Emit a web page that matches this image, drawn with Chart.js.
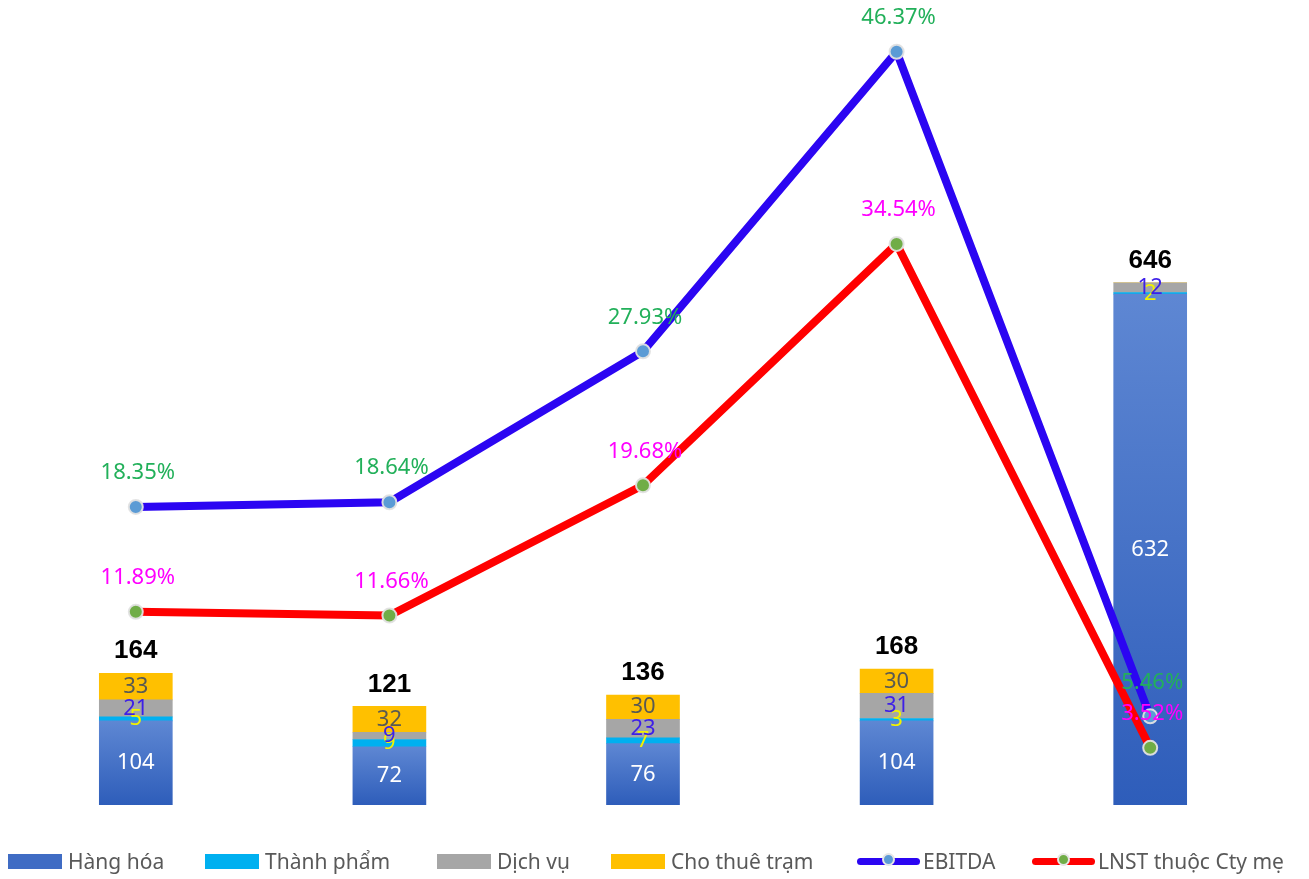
<!DOCTYPE html>
<html lang="vi">
<head>
<meta charset="utf-8">
<script src="https://cdn.jsdelivr.net/npm/chart.js@4.4.1/dist/chart.umd.min.js"></script>
<style>
  html, body { margin: 0; padding: 0; background: #fff; }
  #wrap { position: relative; width: 1309px; height: 879px; }
  #legend {
    position: absolute; left: 0; top: 847px; width: 1309px; height: 28px;
    font-family: "Noto Sans", sans-serif; font-size: 21px; color: #595959;
  }
  .item { position: absolute; top: 0; display: flex; align-items: center; white-space: nowrap; height: 28px; }
  .box { width: 54px; height: 15px; margin-right: 6px; }
  .ln { position: relative; width: 63px; height: 7px; border-radius: 4px; margin-right: 3px; }
  .ln i { position: absolute; left: 25px; top: -5px; width: 13px; height: 13px; border-radius: 50%;
          border: 2px solid #e6e6e6; box-sizing: border-box; }
</style>
</head>
<body>
<div id="wrap">
  <canvas id="c" width="1309" height="879"></canvas>
  <div id="legend"></div>
</div>
<script>
const categories = ["1", "2", "3", "4", "5"];

const hangHoa   = [104, 72, 76, 104, 632];
const thanhPham = [5, 9, 7, 3, 2];
const dichVu    = [21, 9, 23, 31, 12];
const choThue   = [33, 32, 30, 30, 0];
const totals    = [164, 121, 136, 168, 646];

const ebitda = [18.35, 18.64, 27.93, 46.37, 5.46];
const lnst   = [11.89, 11.66, 19.68, 34.54, 3.52];

// legend item left edges (px)
const legendLeft = [8, 205, 437, 611, 857, 1032];

function blueFill(ctx) {
  const chart = ctx.chart;
  const y = chart.scales && chart.scales.y;
  if (!chart.chartArea || !y || ctx.raw == null) return "#4472C4";
  const top = y.getPixelForValue(ctx.raw);
  const bot = y.getPixelForValue(0);
  const g = chart.ctx.createLinearGradient(0, top, 0, bot);
  g.addColorStop(0, "#5E87D3");
  g.addColorStop(1, "#2E5DBA");
  return g;
}

const barSets = [
  { label: "Hàng hóa", data: hangHoa, backgroundColor: blueFill, labelColor: "#FFFFFF", legendColor: "#3F6CC4" },
  { label: "Thành phẩm", data: thanhPham, backgroundColor: "#00B0F0", labelColor: "#F2F200" },
  { label: "Dịch vụ", data: dichVu, backgroundColor: "#A6A6A6", labelColor: "#3D1FE8" },
  { label: "Cho thuê trạm", data: choThue, backgroundColor: "#FFC000", labelColor: "#5A5A52" }
];

const lineSets = [
  { label: "EBITDA", data: ebitda, borderColor: "#2B05F2", pointBackgroundColor: "#5B9BD5", labelColor: "#22B05A" },
  { label: "LNST thuộc Cty mẹ", data: lnst, borderColor: "#FF0000", pointBackgroundColor: "#70AD47", labelColor: "#FF00FF" }
];

const labelsPlugin = {
  id: "labels",
  afterDatasetsDraw(chart) {
    const c = chart.ctx;
    c.save();
    c.textAlign = "center";
    c.textBaseline = "middle";
    c.font = "22px 'Noto Sans'";
    chart.data.datasets.forEach((ds, di) => {
      const meta = chart.getDatasetMeta(di);
      meta.data.forEach((el, i) => {
        const v = ds.data[i];
        if (!v) return;
        c.fillStyle = ds.labelColor;
        if (ds.type === "line") {
          c.fillText(v.toFixed(2) + "%", el.x + 2, el.y - 34);
        } else {
          c.fillText(String(v), el.x, (el.y + el.base) / 2);
        }
      });
    });
    // totals above each stack
    const topMeta = chart.getDatasetMeta(2);
    const y = chart.scales.y;
    c.fillStyle = "#000";
    c.font = "bold 26px 'Liberation Sans', Arial";
    totals.forEach((t, i) => {
      const sum = barSets.reduce((s, b) => s + b.data[i], 0);
      c.fillText(String(t), topMeta.data[i].x, y.getPixelForValue(sum) - 22);
    });
    c.restore();
  }
};

const datasets = [
  ...lineSets.map(s => ({
    type: "line", label: s.label, data: s.data, yAxisID: "y2", order: 0,
    borderColor: s.borderColor, borderWidth: 8, tension: 0,
    pointRadius: 7, pointHoverRadius: 7, pointBorderWidth: 2,
    pointBorderColor: "rgba(225,225,225,0.95)",
    pointBackgroundColor: s.pointBackgroundColor,
    labelColor: s.labelColor, clip: false
  })),
  ...barSets.map(s => ({
    type: "bar", label: s.label, data: s.data, yAxisID: "y", order: 1,
    backgroundColor: s.backgroundColor, barThickness: 73,
    labelColor: s.labelColor
  }))
];

new Chart(document.getElementById("c"), {
  data: { labels: categories, datasets },
  options: {
    responsive: false,
    animation: false,
    layout: { padding: { left: 6, right: 32, top: 37, bottom: 74 } },
    plugins: { legend: { display: false }, tooltip: { enabled: false } },
    scales: {
      x: { stacked: true, display: false },
      y: { stacked: true, display: false, min: 0, max: 950 },
      y2: { display: false, min: 0, max: 47.28, position: "right" }
    }
  },
  plugins: [labelsPlugin]
});

// legend
const lg = document.getElementById("legend");
const legendItems = [
  ...barSets.map(s => `<span class="box" style="background:${s.legendColor || s.backgroundColor}"></span><span>${s.label}</span>`),
  ...lineSets.map(s => `<span class="ln" style="background:${s.borderColor}"><i style="background:${s.pointBackgroundColor}"></i></span><span>${s.label}</span>`)
];
legendItems.forEach((html, i) => {
  const d = document.createElement("div");
  d.className = "item";
  d.style.left = legendLeft[i] + "px";
  d.innerHTML = html;
  lg.appendChild(d);
});
</script>
</body>
</html>
